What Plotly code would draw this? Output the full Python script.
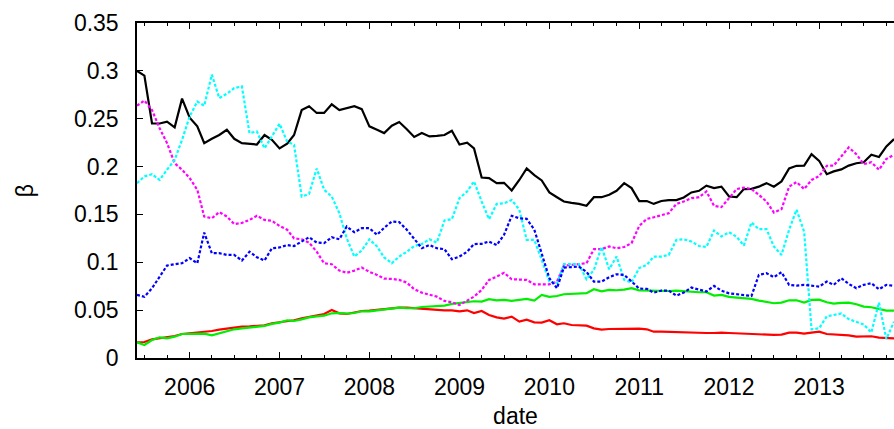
import pandas as pd
import plotly.graph_objects as go

# monthly observation dates (categories on the x axis)
dates = pd.date_range("2005-06-01", "2013-11-01", freq="MS")

black = [0.300,0.295,0.245,0.245,0.247,0.241,0.271,0.251,0.242,0.2245,
         0.229,0.233,0.2385,0.229,0.2245,0.224,0.223,0.233,0.228,0.219,
         0.224,0.233,0.259,0.263,0.256,0.256,0.265,0.259,0.261,0.263,
         0.260,0.242,0.2385,0.235,0.2427,0.2465,0.239,0.231,0.235,0.2315,
         0.232,0.233,0.2375,0.223,0.225,0.219,0.1886,0.188,0.1827,0.183,
         0.175,0.186,0.198,0.191,0.1855,0.173,0.168,0.1635,0.162,0.161,
         0.159,0.168,0.168,0.1705,0.1747,0.1827,0.1775,0.164,0.164,0.161,
         0.164,0.165,0.165,0.1677,0.173,0.1747,0.180,0.1775,0.179,0.1687,
         0.168,0.1765,0.1767,0.179,0.1827,0.179,0.1845,0.198,0.2008,0.201,
         0.213,0.206,0.192,0.195,0.197,0.201,0.2035,0.2045,0.2123,0.210,
         0.221,0.2287]

magenta = [0.2636,0.269,0.259,0.240,0.2245,0.2035,0.1967,0.188,0.1757,0.1478,
           0.146,0.1524,0.1478,0.140,0.141,0.1443,0.1485,0.1443,0.1433,0.138,
           0.134,0.125,0.124,0.1206,0.111,0.099,0.098,0.0913,0.089,0.0913,
           0.0945,0.090,0.0868,0.083,0.0826,0.0816,0.0788,0.0718,0.0683,0.0659,
           0.0641,0.0596,0.0583,0.0554,0.0596,0.0641,0.0711,0.0816,0.085,0.089,
           0.0823,0.0816,0.0816,0.077,0.077,0.077,0.0798,0.0966,0.0973,0.098,
           0.099,0.1137,0.1137,0.1165,0.1147,0.116,0.120,0.138,0.1454,0.147,
           0.1496,0.1513,0.161,0.1635,0.167,0.168,0.174,0.159,0.1576,0.167,
           0.1765,0.178,0.1765,0.1705,0.1635,0.152,0.1555,0.179,0.1838,0.1765,
           0.186,0.190,0.2008,0.201,0.2106,0.220,0.213,0.2026,0.2045,0.1967,
           0.208,0.2123]

cyan = [0.1827,0.1897,0.192,0.186,0.1967,0.207,0.228,0.2524,0.268,0.2636,
        0.296,0.2716,0.276,0.282,0.2838,0.235,0.2367,0.219,0.2315,0.2448,
        0.226,0.2228,0.1687,0.1715,0.198,0.1757,0.1687,0.1513,0.125,0.106,
        0.1123,0.124,0.1165,0.105,0.099,0.106,0.111,0.117,0.119,0.124,
        0.1206,0.1437,0.145,0.167,0.174,0.1845,0.1635,0.145,0.161,0.1617,
        0.165,0.155,0.1234,0.1234,0.1025,0.0798,0.078,0.098,0.098,0.098,
        0.0823,0.092,0.116,0.0927,0.106,0.0816,0.079,0.094,0.0973,0.106,
        0.106,0.1077,0.1234,0.124,0.1217,0.117,0.116,0.1332,0.127,0.1314,
        0.1266,0.1175,0.1416,0.1346,0.1346,0.1165,0.1077,0.134,0.155,0.132,
        0.030,0.031,0.0435,0.0448,0.0465,0.0406,0.038,0.035,0.0267,0.058,
        0.0197,0.038]

blue = [0.0659,0.064,0.0729,0.085,0.0966,0.098,0.099,0.1043,0.099,0.131,
        0.1095,0.1095,0.1077,0.1077,0.1018,0.111,0.1053,0.1018,0.1147,0.1155,
        0.118,0.117,0.1217,0.1262,0.1206,0.120,0.1262,0.124,0.1374,0.1314,
        0.1356,0.1356,0.1287,0.136,0.1426,0.142,0.134,0.124,0.1147,0.118,
        0.1147,0.1137,0.1032,0.106,0.111,0.119,0.1193,0.1217,0.118,0.1287,
        0.1485,0.146,0.1454,0.134,0.1095,0.0833,0.0729,0.0945,0.095,0.0955,
        0.090,0.0798,0.0798,0.0844,0.0875,0.0868,0.080,0.0725,0.0722,0.0683,
        0.0704,0.0704,0.0652,0.0683,0.0736,0.0711,0.0694,0.0753,0.0704,0.0676,
        0.0669,0.0659,0.0648,0.0868,0.0886,0.0844,0.0896,0.0764,0.0757,0.0764,
        0.0757,0.0746,0.0798,0.0764,0.0833,0.0774,0.0729,0.0764,0.0781,0.0718,
        0.0764,0.0753]

red = [0.0164,0.0167,0.0195,0.0206,0.0216,0.023,0.0251,0.0258,0.0265,0.0272,
       0.0282,0.0296,0.0307,0.0317,0.0328,0.0331,0.0335,0.0342,0.0363,0.0373,
       0.0387,0.0394,0.0415,0.0432,0.045,0.046,0.0502,0.0467,0.046,0.0474,
       0.0491,0.0495,0.0505,0.0509,0.052,0.0527,0.0527,0.052,0.052,0.0513,
       0.0505,0.0498,0.0498,0.0488,0.0498,0.047,0.0491,0.045,0.0425,0.0411,
       0.0432,0.038,0.0401,0.0373,0.037,0.0394,0.0352,0.0363,0.0345,0.0342,
       0.0338,0.031,0.0296,0.0303,0.0303,0.031,0.031,0.0307,0.030,0.0275,
       0.0275,0.0272,0.0268,0.0265,0.0261,0.0261,0.0261,0.0261,0.0265,0.0261,
       0.0258,0.0255,0.0251,0.0248,0.0241,0.0241,0.0244,0.0265,0.0265,0.0255,
       0.0265,0.0275,0.0251,0.0248,0.0241,0.0237,0.0223,0.0223,0.0227,0.0213,
       0.0206,0.0206]

green = [0.0164,0.0136,0.0188,0.0216,0.0206,0.0223,0.0251,0.0251,0.0255,0.0255,
         0.0237,0.0258,0.0286,0.030,0.031,0.032,0.0324,0.0335,0.0356,0.037,
         0.0394,0.0387,0.0404,0.0425,0.0435,0.0442,0.0467,0.047,0.0463,0.047,
         0.0488,0.0488,0.0498,0.0509,0.052,0.0527,0.052,0.052,0.0533,0.054,
         0.0544,0.0547,0.0565,0.0575,0.0589,0.0593,0.0589,0.0614,0.0603,0.0607,
         0.0596,0.0603,0.0617,0.060,0.0659,0.0638,0.0648,0.0666,0.067,0.0673,
         0.0677,0.0718,0.0697,0.0711,0.0708,0.0715,0.0729,0.0706,0.0704,0.070,
         0.070,0.070,0.0704,0.0697,0.069,0.0687,0.0687,0.0652,0.0659,0.0638,
         0.0631,0.0624,0.0617,0.060,0.0589,0.0572,0.0579,0.0603,0.0603,0.0579,
         0.0607,0.061,0.0582,0.0568,0.0575,0.0579,0.0561,0.0537,0.053,0.0513,
         0.0495,0.0495]

tick_years = ["2006", "2007", "2008", "2009", "2010", "2011", "2012", "2013"]
y_ticks = [0, 0.05, 0.1, 0.15, 0.2, 0.25, 0.3, 0.35]
y_labels = ["0", "0.05", "0.1", "0.15", "0.2", "0.25", "0.3", "0.35"]

series = [
    (black, "#000000", "solid"),
    (red, "#ff0000", "solid"),
    (green, "#00ee00", "solid"),
    (magenta, "#ff00ff", "3px,2px"),
    (cyan, "#00ffff", "3px,2px"),
    (blue, "#0000ff", "3px,2px"),
]

fig = go.Figure()
for vals, col, dash in series:
    fig.add_trace(go.Scatter(x=dates, y=vals, mode="lines",
                             line=dict(color=col, width=2.2, dash=dash),
                             showlegend=False, hoverinfo="skip"))

FONT = "Liberation Sans, Arial, Helvetica, sans-serif"
fig.update_layout(
    width=894, height=429,
    margin=dict(l=137, r=0, t=23, b=71, autoexpand=False),
    paper_bgcolor="white", plot_bgcolor="white",
    font=dict(family=FONT, size=23, color="black"),
    xaxis=dict(
        type="date",
        range=["2005-06-01", "2013-11-01"],
        tickvals=[y + "-01-01" for y in tick_years],
        ticktext=tick_years,
        ticks="inside", ticklen=6, tickwidth=1, tickcolor="black",
        minor=dict(dtick="M3", tick0="2006-01-01", ticks="inside",
                   ticklen=3, tickcolor="black", showgrid=False),
        showline=True, linecolor="black", linewidth=1.5, mirror="ticks",
        showgrid=False, zeroline=False,
        ticklabelstandoff=8,
        title=dict(text="date", standoff=11, font=dict(size=23)),
    ),
    yaxis=dict(
        range=[0, 0.35],
        tickvals=y_ticks, ticktext=y_labels,
        ticks="inside", ticklen=6, tickwidth=1, tickcolor="black",
        showline=True, linecolor="black", linewidth=1.5, mirror=False,
        showgrid=False, zeroline=False,
        ticklabelstandoff=12,
        title=dict(text="β", standoff=34, font=dict(size=23)),
    ),
)

fig.write_html(
    "out.html",
    config={"displayModeBar": False},
    post_script="document.body.style.margin='0';document.body.style.padding='0';"
                "document.body.style.overflow='hidden';",
)
